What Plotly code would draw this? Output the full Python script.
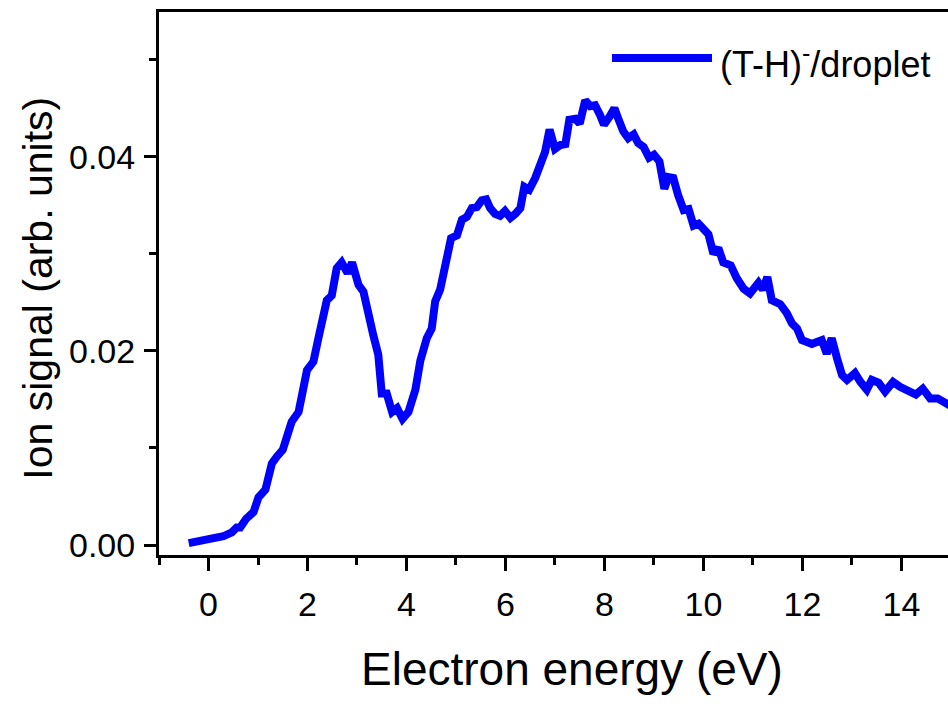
import plotly.graph_objects as go

# Electron energy scan (eV) and normalised (T-H)- ion yield from the droplet
energy = [
    -0.40, 0.00, 0.30, 0.47, 0.57, 0.64, 0.76, 0.91, 1.01, 1.15, 1.28, 1.38, 1.50,
    1.68, 1.82, 1.99, 2.12, 2.22, 2.32, 2.39, 2.49, 2.59, 2.69, 2.81, 2.90,
    3.03, 3.13, 3.23, 3.33, 3.43, 3.50, 3.60, 3.71, 3.81, 3.92, 4.04, 4.18,
    4.28, 4.41, 4.51, 4.58, 4.68, 4.78, 4.90, 5.02, 5.12, 5.22, 5.32, 5.42,
    5.52, 5.61, 5.69, 5.79, 5.89, 5.99, 6.10, 6.20, 6.30, 6.38, 6.48, 6.60,
    6.69, 6.80, 6.89, 7.00, 7.11, 7.21, 7.29, 7.41, 7.50, 7.61, 7.71, 7.81,
    7.91, 7.99, 8.10, 8.20, 8.28, 8.38, 8.48, 8.59, 8.68, 8.79, 8.90, 9.00,
    9.11, 9.21, 9.29, 9.39, 9.49, 9.60, 9.70, 9.80, 9.90, 10.00, 10.10, 10.20,
    10.30, 10.40, 10.55, 10.67, 10.81, 10.94, 11.11, 11.20, 11.29, 11.38, 11.55,
    11.68, 11.79, 11.89, 11.99, 12.09, 12.19, 12.29, 12.39, 12.49, 12.59, 12.70,
    12.80, 12.90, 13.06, 13.17, 13.30, 13.40, 13.54, 13.67, 13.83, 13.97, 14.14,
    14.29, 14.43, 14.58, 14.73, 14.92, 15.00,
]
signal = [
    0.0002, 0.0005, 0.0009, 0.0013, 0.0018, 0.0018, 0.0027, 0.0034, 0.0049, 0.0057,
    0.0084, 0.0091, 0.0098, 0.0127, 0.0137, 0.0180, 0.0189, 0.0213, 0.0232, 0.0252,
    0.0257, 0.0285, 0.0291, 0.0280, 0.0291, 0.0268, 0.0261, 0.0233, 0.0216, 0.0196,
    0.0156, 0.0156, 0.0137, 0.0141, 0.0130, 0.0137, 0.0160, 0.0190, 0.0213, 0.0223,
    0.0251, 0.0263, 0.0292, 0.0316, 0.0319, 0.0335, 0.0338, 0.0347, 0.0348, 0.0355,
    0.0356, 0.0347, 0.0341, 0.0339, 0.0344, 0.0337, 0.0341, 0.0347, 0.0369, 0.0366,
    0.0378, 0.0393, 0.0405, 0.0428, 0.0408, 0.0412, 0.0413, 0.0438, 0.0439, 0.0434,
    0.0458, 0.0452, 0.0453, 0.0443, 0.0433, 0.0441, 0.0450, 0.0439, 0.0426, 0.0419,
    0.0423, 0.0414, 0.0410, 0.0399, 0.0402, 0.0395, 0.0367, 0.0379, 0.0378, 0.0360,
    0.0345, 0.0346, 0.0329, 0.0331, 0.0326, 0.0320, 0.0300, 0.0306, 0.0291, 0.0288,
    0.0275, 0.0264, 0.0259, 0.0270, 0.0263, 0.0276, 0.0252, 0.0248, 0.0239, 0.0228,
    0.0223, 0.0211, 0.0209, 0.0207, 0.0209, 0.0211, 0.0197, 0.0213, 0.0192, 0.0175,
    0.0170, 0.0177, 0.0168, 0.0160, 0.0170, 0.0167, 0.0158, 0.0168, 0.0163, 0.0158,
    0.0155, 0.0161, 0.0151, 0.0151, 0.0145, 0.0143,
]

x_range = [-1.0, 14.94]
y_range = [-0.00103, 0.0549]
x_ticks = [0, 2, 4, 6, 8, 10, 12, 14]
y_ticks = [0.00, 0.02, 0.04]
y_ticktext = ["0.00", "0.02", "0.04"]

series_name = "(T-H)<sup>-</sup>/droplet"
x_title = "Electron energy (eV)"
y_title = "Ion signal (arb. units)"

FONT = "Liberation Sans, Arial, sans-serif"
BLUE = "#0000FF"

fig = go.Figure()
fig.add_trace(go.Scatter(
    x=energy, y=signal, mode="lines",
    line=dict(color=BLUE, width=8, shape="linear"),
    name=series_name, showlegend=False,
))

axis_common = dict(
    showgrid=False, zeroline=False, showline=True,
    linecolor="black", linewidth=3,
    ticks="outside", tickcolor="black", tickwidth=2.5,
    tickfont=dict(family=FONT, size=34, color="black"),
)

fig.update_xaxes(
    range=x_range, tickvals=x_ticks, ticklen=13, mirror=True,
    minor=dict(ticks="outside", dtick=1, tick0=-1, ticklen=7,
               tickwidth=2.5, tickcolor="black"),
    ticklabelstandoff=4,
    **axis_common,
)
fig.update_yaxes(
    range=y_range, tickvals=y_ticks, ticktext=y_ticktext, ticklen=12,
    mirror=False,
    minor=dict(ticks="outside", dtick=0.01, tick0=0, ticklen=7,
               tickwidth=2.5, tickcolor="black"),
    ticklabelstandoff=2,
    **axis_common,
)

# Legend: drawn sample line plus label
fig.add_shape(type="line", xref="paper", yref="paper",
              x0=0.5741, x1=0.7009, y0=0.9153, y1=0.9153,
              line=dict(color=BLUE, width=8))
fig.add_annotation(xref="paper", yref="paper", x=0.7085, y=0.908,
                   xanchor="left", yanchor="middle", showarrow=False,
                   text=series_name,
                   font=dict(family=FONT, size=36, color="black"))

# Axis titles
fig.add_annotation(xref="paper", yref="paper", x=0.523, y=-0.21,
                   xanchor="center", yanchor="middle", showarrow=False,
                   text=x_title, font=dict(family=FONT, size=46, color="black"))
fig.add_annotation(xref="paper", yref="paper", x=-0.153, y=0.491,
                   xanchor="center", yanchor="middle", showarrow=False,
                   textangle=-90,
                   text=y_title, font=dict(family=FONT, size=41, color="black"))

fig.update_layout(
    width=948, height=704,
    margin=dict(l=159, r=0, t=12, b=149),
    paper_bgcolor="white", plot_bgcolor="white",
    font=dict(family=FONT, color="black"),
)

fig.write_html("out.html")
